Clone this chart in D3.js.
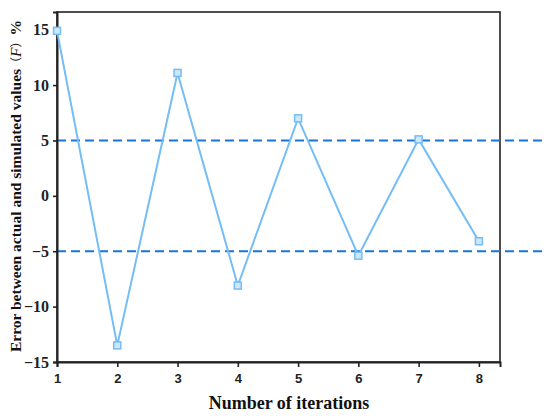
<!DOCTYPE html>
<html><head><meta charset="utf-8">
<script src="https://cdn.jsdelivr.net/npm/d3@7"></script>
<style>body{margin:0;background:#fff}</style>
</head><body><svg id="c" width="550" height="420"></svg>
<script>
const iterations = [1, 2, 3, 4, 5, 6, 7, 8];
const errors = [14.9, -13.5, 11.1, -8.1, 7.0, -5.4, 5.1, -4.1];
const yTicks = [-15, -10, -5, 0, 5, 10, 15];
const thresholds = [5, -5];

const svg = d3.select("#c");
const L = 57, R = 500, T = 12, B = 362;
const x = d3.scaleLinear().domain([1, 8.35]).range([L, R]);
const y = d3.scaleLinear().domain([-15, 16.6]).range([B, T]);
const serif = "'Liberation Serif', 'Times New Roman', serif";

// box
svg.append("rect").attr("x", L).attr("y", T).attr("width", R - L).attr("height", B - T)
  .attr("fill", "none").attr("stroke", "#222").attr("stroke-width", 1.6);

// threshold dashed lines
svg.selectAll(".th").data(thresholds).enter().append("line")
  .attr("x1", L).attr("x2", 542).attr("y1", d => y(d)).attr("y2", d => y(d))
  .attr("stroke", "#1a74d6").attr("stroke-width", 2).attr("stroke-dasharray", "9,5");

// axes
const xAxis = svg.append("g").attr("transform", `translate(0,${B})`)
  .call(d3.axisBottom(x).tickValues(iterations).tickFormat(d3.format("d")).tickSizeOuter(0).tickSize(5))
  .attr("font-family", null).attr("font-size", null);
xAxis.select(".domain").attr("stroke", "#222").attr("stroke-width", 2);
xAxis.selectAll(".tick line").attr("stroke", "#222").attr("stroke-width", 1.6);
xAxis.selectAll(".tick text").attr("font-family", "'Liberation Sans', Arial, sans-serif")
  .attr("font-weight", "bold").attr("font-size", 13).attr("fill", "#222").attr("dy", "1.0em");

const yAxis = svg.append("g").attr("transform", `translate(${L},0)`)
  .call(d3.axisLeft(y).tickValues(yTicks).tickFormat(d => d < 0 ? "\u2212" + Math.abs(d) : String(d)).tickSizeOuter(0).tickSize(4))
  .attr("font-family", null).attr("font-size", null);
yAxis.select(".domain").attr("stroke", "#222").attr("stroke-width", 2);
yAxis.selectAll(".tick line").attr("stroke", "#222").attr("stroke-width", 1.6);
yAxis.selectAll(".tick text").attr("font-family", serif)
  .attr("font-weight", "bold").attr("font-size", 16).attr("fill", "#222").attr("x", -8);

// line
const pts = iterations.map((d, i) => [d, errors[i]]);
svg.append("path").datum(pts)
  .attr("d", d3.line().x(d => x(d[0])).y(d => y(d[1])))
  .attr("fill", "none").attr("stroke", "#74bdf7").attr("stroke-width", 2);
svg.selectAll(".m").data(pts).enter().append("rect")
  .attr("x", d => x(d[0]) - 3.5).attr("y", d => y(d[1]) - 3.5)
  .attr("width", 7).attr("height", 7)
  .attr("fill", "#cfe7fb").attr("stroke", "#74bdf7").attr("stroke-width", 1.5);

// labels
svg.append("text").attr("x", 289).attr("y", 409).attr("text-anchor", "middle")
  .attr("font-family", serif).attr("font-weight", "bold")
  .attr("font-size", 18).attr("fill", "#111").text("Number of iterations");

const yl = svg.append("text").attr("transform", "translate(21,186) rotate(-90)")
  .attr("text-anchor", "middle").attr("font-family", serif)
  .attr("font-weight", "bold").attr("font-size", 15.5).attr("fill", "#111");
yl.append("tspan").text("Error between actual and simulated values");
yl.append("tspan").attr("font-weight", "normal").attr("font-family", "'Noto Sans CJK SC'").attr("font-size", 12).text("（");
yl.append("tspan").attr("font-weight", "normal").attr("font-style", "italic").text("F");
yl.append("tspan").attr("font-weight", "normal").attr("font-family", "'Noto Sans CJK SC'").attr("font-size", 12).text("）");
yl.append("tspan").text("%");
</script></body></html>
